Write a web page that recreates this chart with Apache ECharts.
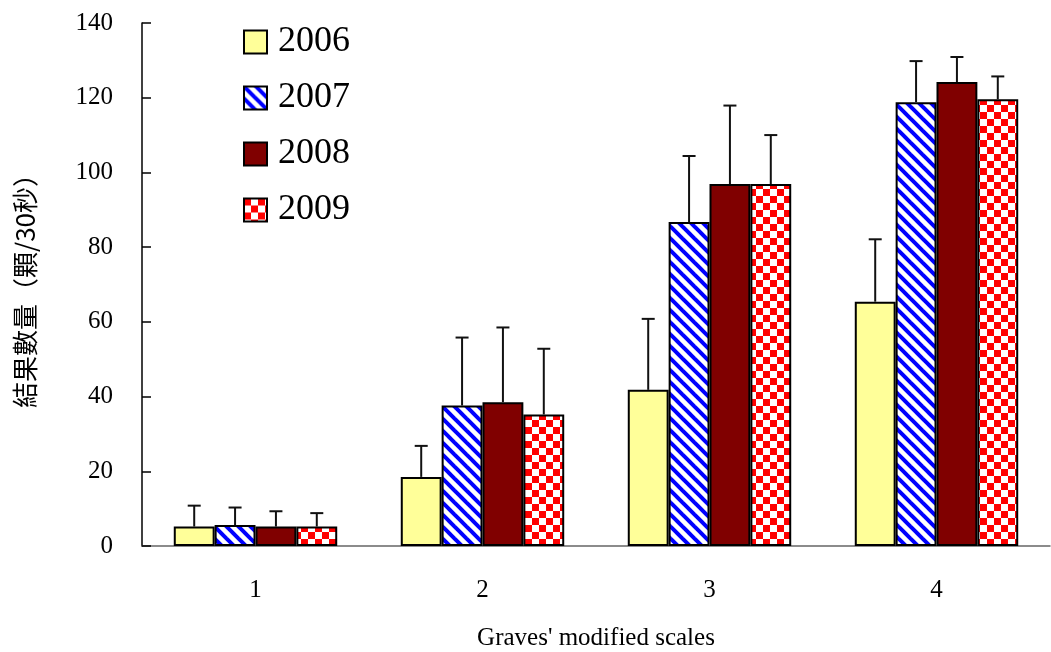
<!DOCTYPE html>
<html>
<head>
<meta charset="utf-8">
<style>
  html, body { margin: 0; padding: 0; background: #fff; }
  #chart { width: 1051px; height: 652px; }
</style>
<script src="https://cdn.jsdelivr.net/npm/echarts@6/dist/echarts.min.js"></script>
</head>
<body>
<div id="chart"></div>
<script>
// Graves' modified scales: fruit-set counts per 30 s, by year
const categories = ['1', '2', '3', '4'];
const years = ['2006', '2007', '2008', '2009'];
const means2006 = [5.2, 18.5, 41.8, 65.4];
const means2007 = [5.6, 37.6, 86.7, 118.8];
const means2008 = [5.2, 38.5, 96.9, 124.2];
const means2009 = [5.2, 35.2, 96.9, 119.6];
const errs2006 = [5.6, 8.3, 19.0, 16.7];
const errs2007 = [4.7, 18.2, 17.7, 11.0];
const errs2008 = [4.1, 20.0, 21.0, 6.7];
const errs2009 = [3.6, 17.6, 13.1, 6.1];
const yTicks = [0, 20, 40, 60, 80, 100, 120, 140];

const means = [means2006, means2007, means2008, means2009];
const errs = [errs2006, errs2007, errs2008, errs2009];

// Fill patterns
function stripePattern() {
  const s = 12;
  const c = document.createElement('canvas');
  c.width = s; c.height = s;
  const g = c.getContext('2d');
  g.fillStyle = '#ffffff';
  g.fillRect(0, 0, s, s);
  g.strokeStyle = '#0000ff';
  g.lineWidth = 4;
  for (let k = -1; k <= 1; k++) {
    g.beginPath();
    g.moveTo(k * s - 2, -2);
    g.lineTo(k * s + s + 2, s + 2);
    g.stroke();
  }
  return c;
}
function checkerPattern() {
  const cell = 7;
  const c = document.createElement('canvas');
  c.width = cell * 2; c.height = cell * 2;
  const g = c.getContext('2d');
  g.fillStyle = '#ffffff';
  g.fillRect(0, 0, cell * 2, cell * 2);
  g.fillStyle = '#ff0000';
  g.fillRect(0, 0, cell, cell);
  g.fillRect(cell, cell, cell, cell);
  return c;
}

const fills = [
  '#ffff99',
  { image: stripePattern(), repeat: 'repeat' },
  '#800000',
  { image: checkerPattern(), repeat: 'repeat' }
];

const chart = echarts.init(document.getElementById('chart'));
const font = '"Liberation Serif", "Times New Roman", serif';

const barWidthPct = 18;
const series = [];
years.forEach((y, i) => {
  series.push({
    name: y,
    type: 'bar',
    data: means[i],
    barWidth: barWidthPct + '%',
    barGap: '0%',
    itemStyle: { color: fills[i], borderColor: '#000', borderWidth: 2 },
    z: 2
  });
});

// Error bars (upper whisker with cap), placed over each bar
years.forEach((y, i) => {
  series.push({
    type: 'custom',
    name: y + ' err',
    z: 3,
    silent: true,
    data: means[i].map((m, j) => [j, m, m + errs[i][j]]),
    renderItem: function (params, api) {
      const idx = api.value(0);
      const base = api.coord([idx, api.value(1)]);
      const top = api.coord([idx, api.value(2)]);
      const band = api.size([1, 0])[0];
      const bw = band * barWidthPct / 100;
      const x = base[0] + (i - 1.5) * bw;
      const cap = 6.5;
      const st = { stroke: '#111', lineWidth: 2 };
      return {
        type: 'group',
        children: [
          { type: 'line', shape: { x1: x, y1: base[1], x2: x, y2: top[1] }, style: st },
          { type: 'line', shape: { x1: x - cap, y1: top[1], x2: x + cap, y2: top[1] }, style: st }
        ]
      };
    }
  });
});

chart.setOption({
  backgroundColor: '#ffffff',
  animation: false,
  grid: { left: 142, right: 1, top: 23, bottom: 106, outerBoundsMode: 'none', containLabel: false },
  legend: {
    data: years.map(y => ({ name: y, icon: 'rect' })),
    orient: 'vertical',
    left: 243,
    top: 24,
    padding: 0,
    itemWidth: 23,
    itemHeight: 23,
    itemGap: 20,
    textStyle: { fontFamily: font, fontSize: 36, color: '#000', padding: [0, 0, 0, 6] },
    itemStyle: { borderColor: '#000', borderWidth: 2 }
  },
  xAxis: {
    type: 'category',
    data: categories,
    name: "Graves' modified scales",
    nameLocation: 'middle',
    nameGap: 80,
    nameTextStyle: { fontFamily: font, fontSize: 25, color: '#000' },
    axisLine: { lineStyle: { color: '#666', width: 1.5 } },
    axisTick: { inside: true, length: 9, lineStyle: { color: '#666', width: 1.5 } },
    axisLabel: { fontFamily: font, fontSize: 25, color: '#000', margin: 32 }
  },
  yAxis: {
    type: 'value',
    min: yTicks[0],
    max: yTicks[yTicks.length - 1],
    interval: yTicks[1] - yTicks[0],
    name: '結果數量（顆/30秒）',
    nameLocation: 'middle',
    nameRotate: 90,
    nameGap: 104,
    nameTextStyle: { fontFamily: '"Noto Sans CJK TC", serif', fontSize: 26, color: '#000' },
    splitLine: { show: false },
    axisLine: { show: true, lineStyle: { color: '#000', width: 1.5 } },
    axisTick: { show: true, inside: true, length: 9, lineStyle: { color: '#000', width: 1.5 } },
    axisLabel: { fontFamily: font, fontSize: 25, color: '#000', margin: 29 }
  },
  series: series
});
</script>
</body>
</html>
